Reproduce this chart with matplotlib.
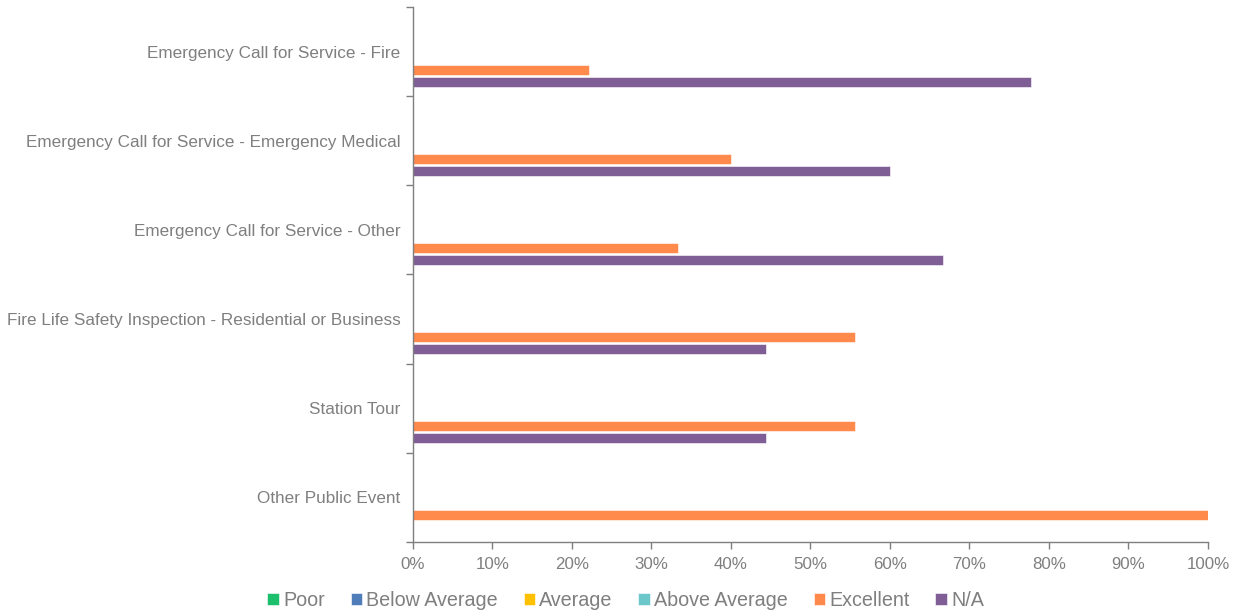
import numpy as np
import matplotlib.pyplot as plt
from matplotlib.ticker import FixedLocator, PercentFormatter

plt.rcParams['font.family'] = ['Liberation Sans', 'DejaVu Sans']

categories = [
    "Emergency Call for Service - Fire",
    "Emergency Call for Service - Emergency Medical",
    "Emergency Call for Service - Other",
    "Fire Life Safety Inspection - Residential or Business",
    "Station Tour",
    "Other Public Event",
]
series = ["Poor", "Below Average", "Average", "Above Average", "Excellent", "N/A"]
poor = [0, 0, 0, 0, 0, 0]
below_average = [0, 0, 0, 0, 0, 0]
average = [0, 0, 0, 0, 0, 0]
above_average = [0, 0, 0, 0, 0, 0]
excellent = [22.2, 40.0, 33.3, 55.6, 55.6, 100.0]
not_applicable = [77.8, 60.0, 66.7, 44.4, 44.4, 0]
colors = ["#1CBF6B", "#4F7DBA", "#FFC000", "#6CC7CA", "#FF8A4C", "#7E5E94"]

values = [poor, below_average, average, above_average, excellent, not_applicable]

gray = "#7F7F7F"
fig = plt.figure(figsize=(12.39, 6.14), dpi=100)
ax = fig.add_axes([0.3333, 0.1173, 0.6416, 0.8713])

y = np.arange(len(categories))
step = 0.135
for i, (name, vals, c) in enumerate(zip(series, values, colors)):
    offset = (i - 2.5) * step
    ax.barh(y + offset, vals, height=0.112, color=c, label=name,
            edgecolor="white", linewidth=0.4)

ax.set_ylim(len(categories) - 0.5, -0.5)
ax.set_xlim(0, 100)
ax.xaxis.set_major_locator(FixedLocator(np.arange(0, 101, 10)))
ax.xaxis.set_major_formatter(PercentFormatter(decimals=0))

ax.set_yticks(y)
ax.set_yticklabels(categories)
ax.yaxis.set_minor_locator(FixedLocator(np.arange(-0.5, len(categories), 1)))
ax.tick_params(axis="y", which="major", length=0, pad=9,
               labelsize=12.3, labelcolor=gray)
ax.tick_params(axis="y", which="minor", length=5, color=gray, width=1)
ax.tick_params(axis="x", length=5, color=gray, width=1,
               labelsize=12.2, labelcolor=gray, pad=6)

for side in ["top", "right"]:
    ax.spines[side].set_visible(False)
for side in ["left", "bottom"]:
    ax.spines[side].set_color(gray)
    ax.spines[side].set_linewidth(1)

handles, labels = ax.get_legend_handles_labels()
fig.legend(handles, labels, loc="lower center", bbox_to_anchor=(0.505, -0.022),
           ncol=6, frameon=False, fontsize=14.2, labelcolor=gray,
           handlelength=0.6, handleheight=0.6, handletextpad=0.2,
           columnspacing=1.3)

fig.savefig("out.png", dpi=100)
